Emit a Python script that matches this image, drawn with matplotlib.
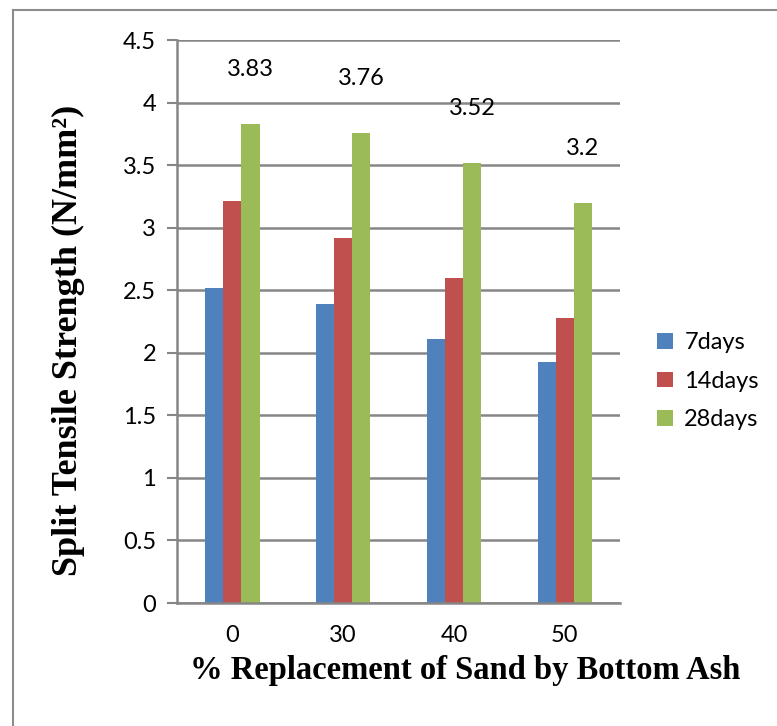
import numpy as np
import matplotlib.pyplot as plt

# Split tensile strength results
replacement = ["0", "30", "40", "50"]
days_7 = [2.52, 2.39, 2.11, 1.93]
days_14 = [3.21, 2.92, 2.60, 2.28]
days_28 = [3.83, 3.76, 3.52, 3.20]
y_ticks = [0, 0.5, 1, 1.5, 2, 2.5, 3, 3.5, 4, 4.5]

tick_font = "Lato"
title_font = "Liberation Serif"

fig = plt.figure(figsize=(7.77, 7.26), dpi=100)
ax = fig.add_axes([0.2278, 0.1694, 0.5705, 0.7755])

# outer frame lines (left and top)
fig.add_artist(plt.Line2D([13 / 777, 13 / 777], [0, 1 - 10 / 726], color="#8c8c8c", lw=1.5,
                          transform=fig.transFigure))
fig.add_artist(plt.Line2D([13 / 777, 1], [1 - 10 / 726, 1 - 10 / 726], color="#8c8c8c", lw=1.5,
                          transform=fig.transFigure))

x = np.arange(len(replacement))
w = 0.163
ax.bar(x - w, days_7, w, color="#4F81BD", label="7days")
ax.bar(x, days_14, w, color="#C0504D", label="14days")
bars28 = ax.bar(x + w, days_28, w, color="#9BBB59", label="28days")

for rect, v in zip(bars28, days_28):
    ax.annotate(f"{v:g}", (rect.get_x() + rect.get_width() / 2, v),
                xytext=(0, 39), textcoords="offset points",
                ha="center", va="center", fontsize=17, family=tick_font)

ax.set_xlim(-0.5, len(replacement) - 0.5)
ax.set_ylim(0, 4.5)
ax.set_yticks(y_ticks)
ax.set_yticklabels([f"{t:g}" for t in y_ticks], family=tick_font, fontsize=17)
ax.set_xticks(x)
ax.set_xticklabels(replacement, family=tick_font, fontsize=17)
ax.tick_params(axis="x", length=0, pad=16)
ax.tick_params(axis="y", length=7, width=1.5, color="#868686", pad=8)

ax.yaxis.grid(True, color="#868686", lw=1.8)
ax.set_axisbelow(True)
for side in ["top", "right"]:
    ax.spines[side].set_visible(False)
for side in ["left", "bottom"]:
    ax.spines[side].set_color("#868686")
    ax.spines[side].set_linewidth(1.8)

ax.set_xlabel("% Replacement of Sand by Bottom Ash", family=title_font,
              fontweight="bold", fontsize=23.5)
ax.xaxis.set_label_coords(0.65, -0.092)
ax.set_ylabel("Split Tensile Strength (N/mm²)", family=title_font,
              fontweight="bold", fontsize=26)
ax.yaxis.set_label_coords(-0.2077, 0.467)

leg = ax.legend(loc="center left", bbox_to_anchor=(1.062, 0.394), frameon=False,
                prop={"family": tick_font, "size": 17}, handlelength=0.65,
                handleheight=0.65, handletextpad=0.5, labelspacing=0.75,
                borderaxespad=0)

fig.savefig("out.png", dpi=100)
